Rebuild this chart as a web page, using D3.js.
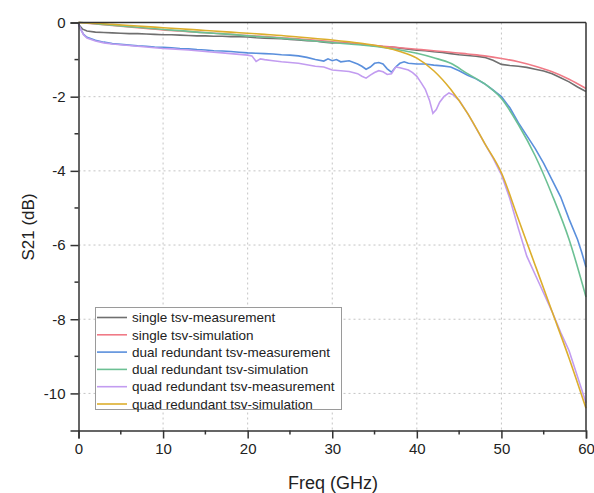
<!DOCTYPE html>
<html><head><meta charset="utf-8">
<script src="https://cdn.jsdelivr.net/npm/d3@7"></script>
<style>body{margin:0;background:#fff}svg{display:block}text{font-family:"Liberation Sans",Arial,sans-serif;fill:#222}</style>
</head><body><svg id="c" width="594" height="493"></svg>
<script>
// ---- data ----
const xTicks = [0,10,20,30,40,50,60];
const yTicks = [0,-2,-4,-6,-8,-10];
const seriesNames = ["single tsv-measurement","single tsv-simulation","dual redundant tsv-measurement","dual redundant tsv-simulation","quad redundant tsv-measurement","quad redundant tsv-simulation"];
const seriesColors = ["#6f6f6f","#f07a86","#5a8fdc","#6cc094","#c29cf0","#dcae2c"];

const singleMeasF = [0,0.5,1,2,3,4,5,6,7,8,9,10,11,12,13,14,15,16,17,18,19,20,21,22,23,24,25,26,27,28,29,30,31,32,33,34,35,36,37,38,39,40,41,42,43,44,45,46,47,48,49,50,51,52,53,54,55,56,57,58,59,60];
const singleMeasV = [-0.05,-0.18,-0.23,-0.26,-0.27,-0.28,-0.29,-0.3,-0.3,-0.31,-0.32,-0.33,-0.33,-0.34,-0.35,-0.36,-0.36,-0.37,-0.37,-0.38,-0.38,-0.39,-0.41,-0.42,-0.43,-0.44,-0.46,-0.47,-0.49,-0.5,-0.53,-0.55,-0.54,-0.56,-0.58,-0.6,-0.63,-0.65,-0.66,-0.69,-0.72,-0.75,-0.76,-0.79,-0.81,-0.84,-0.87,-0.89,-0.91,-0.94,-1.02,-1.13,-1.16,-1.18,-1.21,-1.26,-1.31,-1.38,-1.49,-1.6,-1.74,-1.86];

const simF = [0,2,4,6,8,10,12,14,16,18,20,22,24,26,28,30,32,34,36,38,40,42,44,46,48,50,52,54,56,58,60];
const singleSimV = [0,-0.04,-0.08,-0.12,-0.16,-0.2,-0.23,-0.26,-0.29,-0.32,-0.35,-0.38,-0.41,-0.44,-0.48,-0.52,-0.56,-0.6,-0.64,-0.68,-0.72,-0.76,-0.8,-0.85,-0.9,-0.97,-1.06,-1.18,-1.33,-1.53,-1.78];
const dualSimV = [0,-0.03,-0.07,-0.11,-0.15,-0.19,-0.22,-0.26,-0.29,-0.32,-0.36,-0.39,-0.42,-0.46,-0.5,-0.54,-0.58,-0.62,-0.67,-0.74,-0.83,-0.95,-1.1,-1.38,-1.65,-2.05,-2.75,-3.6,-4.65,-5.85,-7.4];
const quadSimV = [0,-0.02,-0.05,-0.08,-0.11,-0.14,-0.17,-0.2,-0.23,-0.26,-0.29,-0.32,-0.35,-0.39,-0.43,-0.47,-0.52,-0.58,-0.66,-0.78,-0.96,-1.3,-1.8,-2.45,-3.25,-4.05,-5.3,-6.55,-7.8,-9.05,-10.4];

const dualMeasF = [0,0.3,0.6,1,2,3,4,5,6,7,8,9,10,11,12,13,14,15,16,17,18,19,20,21,22,23,24,25,26,27,28,29,29.5,30,30.5,31,32,33,33.5,34,34.5,35,35.5,36,36.5,37,37.5,38,38.5,39,40,41,42,43,44,45,46,47,48,49,50,51,52,53,54,55,56,57,58,59,59.5,60];
const dualMeasV = [-0.05,-0.2,-0.32,-0.4,-0.48,-0.53,-0.57,-0.59,-0.61,-0.63,-0.64,-0.66,-0.67,-0.68,-0.7,-0.71,-0.73,-0.74,-0.76,-0.77,-0.78,-0.8,-0.82,-0.83,-0.84,-0.85,-0.87,-0.88,-0.9,-0.94,-1.0,-1.04,-0.98,-1.03,-1.0,-1.06,-1.03,-1.12,-1.18,-1.26,-1.2,-1.1,-1.08,-1.12,-1.25,-1.34,-1.2,-1.1,-1.06,-1.1,-1.12,-1.12,-1.15,-1.17,-1.2,-1.3,-1.42,-1.52,-1.65,-1.82,-2.0,-2.3,-2.7,-3.05,-3.4,-3.8,-4.25,-4.7,-5.3,-5.85,-6.2,-6.6];

const quadMeasF = [0,0.3,0.6,1,2,3,4,5,6,7,8,9,10,11,12,13,14,15,16,17,18,19,20,20.5,21,21.5,22,23,24,25,26,27,28,29,30,31,32,33,33.5,34,34.5,35,35.5,36,36.5,37,37.5,38,39,39.5,40,40.5,41,41.5,41.9,42.3,42.7,43.2,43.8,44.3,45,46,47,48,49,50,51,52,53,54,55,56,57,58,59,60];
const quadMeasV = [-0.05,-0.2,-0.33,-0.42,-0.5,-0.55,-0.58,-0.6,-0.62,-0.64,-0.66,-0.68,-0.7,-0.71,-0.73,-0.74,-0.76,-0.78,-0.8,-0.82,-0.84,-0.86,-0.88,-0.9,-1.05,-0.98,-1.0,-1.03,-1.06,-1.08,-1.1,-1.14,-1.18,-1.2,-1.28,-1.3,-1.32,-1.38,-1.45,-1.5,-1.42,-1.35,-1.3,-1.33,-1.4,-1.38,-1.2,-1.22,-1.28,-1.35,-1.45,-1.62,-1.8,-2.1,-2.45,-2.35,-2.15,-2.0,-1.9,-1.95,-2.1,-2.45,-2.85,-3.25,-3.65,-4.1,-4.75,-5.55,-6.3,-6.8,-7.3,-7.8,-8.35,-8.85,-9.55,-10.25];

// ---- chart ----
const svg = d3.select("#c");
const L=78.5, R=586, T=22.5, B=430.5;
const x = d3.scaleLinear().domain([0,60]).range([L,R]);
const y = d3.scaleLinear().domain([-11,0]).range([B,T]);

// grid
const g = svg.append("g");
g.selectAll(".gx").data(xTicks.filter(d=>d>0&&d<60)).join("line")
 .attr("x1",d=>x(d)).attr("x2",d=>x(d)).attr("y1",T).attr("y2",B)
 .attr("stroke","#c4c4c4").attr("stroke-width",1).attr("stroke-dasharray","2,3");
g.selectAll(".gy").data(yTicks.filter(d=>d<0)).join("line")
 .attr("y1",d=>y(d)).attr("y2",d=>y(d)).attr("x1",L).attr("x2",R)
 .attr("stroke","#c4c4c4").attr("stroke-width",1).attr("stroke-dasharray","2,3");

// series
const series = [
 [singleMeasF, singleMeasV],
 [simF, singleSimV],
 [dualMeasF, dualMeasV],
 [simF, dualSimV],
 [quadMeasF, quadMeasV],
 [simF, quadSimV]
];
const lineM = d3.line().x(d=>x(d[0])).y(d=>y(d[1])).curve(d3.curveLinear);
const lineS = d3.line().x(d=>x(d[0])).y(d=>y(d[1])).curve(d3.curveMonotoneX);
series.forEach((s,i)=>{
  const pts = s[0].map((f,k)=>[f,s[1][k]]);
  svg.append("path").datum(pts).attr("fill","none")
   .attr("stroke",seriesColors[i]).attr("stroke-width",1.6)
   .attr("d", (i%2===1)? lineS : lineM);
});

// frame top/right
svg.append("line").attr("x1",L).attr("x2",R).attr("y1",T).attr("y2",T).attr("stroke","#333").attr("stroke-width",1.5);
svg.append("line").attr("x1",R).attr("x2",R).attr("y1",T).attr("y2",B).attr("stroke","#333").attr("stroke-width",1.5);

// axes
const xAxis = svg.append("g").attr("transform",`translate(0,${B})`)
 .call(d3.axisBottom(x).tickValues(xTicks).tickSize(8).tickPadding(5).tickFormat(d3.format("d")));
const yAxis = svg.append("g").attr("transform",`translate(${L},0)`)
 .call(d3.axisLeft(y).tickValues(yTicks).tickSize(8).tickPadding(5).tickFormat(d3.format("d")));
[xAxis,yAxis].forEach(a=>{
  a.select(".domain").attr("stroke","#333").attr("stroke-width",1.5);
  a.selectAll(".tick line").attr("stroke","#333").attr("stroke-width",1.5);
  a.selectAll(".tick text").attr("font-size",15).attr("fill","#222").style("font-family","Liberation Sans, Arial, sans-serif");
});
yAxis.selectAll(".tick text").text(d=>d<0? "-"+Math.abs(d) : d);
// minor ticks
const xMinor=[5,15,25,35,45,55], yMinor=[-1,-3,-5,-7,-9];
svg.append("g").selectAll("line").data(xMinor).join("line")
 .attr("x1",d=>x(d)).attr("x2",d=>x(d)).attr("y1",B).attr("y2",B+4).attr("stroke","#333").attr("stroke-width",1.5);
svg.append("g").selectAll("line").data(yMinor).join("line")
 .attr("y1",d=>y(d)).attr("y2",d=>y(d)).attr("x1",L).attr("x2",L-4).attr("stroke","#333").attr("stroke-width",1.5);

// titles
svg.append("text").attr("x",333).attr("y",489).attr("text-anchor","middle").attr("font-size",18).text("Freq (GHz)");
svg.append("text").attr("transform","translate(34,227) rotate(-90)").attr("text-anchor","middle").attr("font-size",17).text("S21 (dB)");

// legend
const lg = svg.append("g");
lg.append("rect").attr("x",95.5).attr("y",307.5).attr("width",246).attr("height",102)
 .attr("fill","#fff").attr("stroke","#9a9a9a").attr("stroke-width",1);
seriesNames.forEach((n,i)=>{
  const yy = 317.5 + i*17.3;
  lg.append("line").attr("x1",97).attr("x2",127).attr("y1",yy).attr("y2",yy).attr("stroke",seriesColors[i]).attr("stroke-width",1.6);
  lg.append("text").attr("x",132).attr("y",yy+4.7).attr("font-size",13.5).text(n);
});
</script></body></html>
